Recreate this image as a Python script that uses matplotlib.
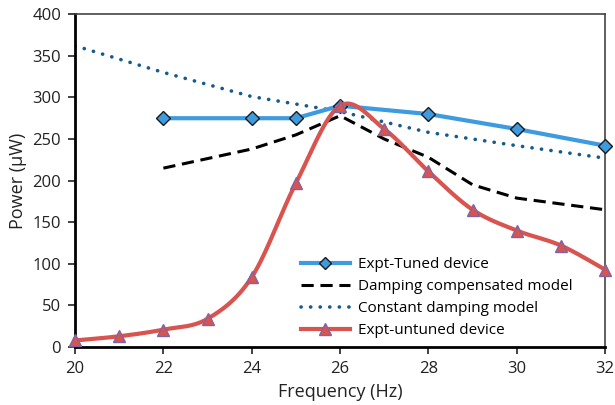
import numpy as np
import matplotlib
matplotlib.use("Agg")
import matplotlib.pyplot as plt
from matplotlib.lines import Line2D

plt.rcParams["font.family"] = ["Open Sans", "DejaVu Sans"]

tuned_f = [22, 24, 25, 26, 28, 30, 32]
tuned_p = [275, 275, 275, 290, 280, 262, 242]

damp_f = [22, 24, 25, 26, 27, 28, 29, 30, 31, 32]
damp_p = [215, 238, 255, 278, 250, 228, 195, 179, 172, 165]

const_f = [20, 22, 24, 26, 28, 30, 32]
const_p = [362, 330, 301, 283, 258, 242, 227]

untuned_f = [20, 21, 22, 23, 24, 25, 26, 27, 28, 29, 30, 31, 32]
untuned_p = [8, 13, 21, 34, 84, 197, 290, 262, 211, 165, 140, 122, 93]


def smooth(x, y, n=30):
    # Excel-like smoothed line (Catmull-Rom through the points)
    x = np.asarray(x, float)
    y = np.asarray(y, float)
    px = np.concatenate([[x[0]], x, [x[-1]]])
    py = np.concatenate([[y[0]], y, [y[-1]]])
    xs, ys = [], []
    for i in range(1, len(px) - 2):
        t = np.linspace(0, 1, n)
        p0, p1, p2, p3 = (px[i - 1], py[i - 1]), (px[i], py[i]), (px[i + 1], py[i + 1]), (px[i + 2], py[i + 2])
        c1 = (p1[0] + (p2[0] - p0[0]) / 6, p1[1] + (p2[1] - p0[1]) / 6)
        c2 = (p2[0] - (p3[0] - p1[0]) / 6, p2[1] - (p3[1] - p1[1]) / 6)
        for k in range(2):
            b = ((1 - t) ** 3 * p1[k] + 3 * (1 - t) ** 2 * t * c1[k]
                 + 3 * (1 - t) * t ** 2 * c2[k] + t ** 3 * p2[k])
            (xs if k == 0 else ys).append(b)
    return np.concatenate(xs), np.concatenate(ys)


fig = plt.figure(figsize=(6.15, 4.05), dpi=100)
ax = fig.add_axes([0.122, 0.143, 0.862, 0.822])

blue = "#3E9BE0"
red = "#D9534F"
dotblue = "#175B8C"
dots = (0, (0.05, 2.6))

ax.plot(tuned_f, tuned_p, color=blue, lw=3, marker="D", ms=7,
        mfc=blue, mec="#1a1a1a", mew=1, zorder=3, clip_on=False)
ax.plot(damp_f, damp_p, color="black", lw=2.2, ls=(0, (4, 2.2)), zorder=2)
ax.plot(const_f, const_p, color=dotblue, lw=2.6, ls=dots,
        dash_capstyle="round", zorder=2)
sx, sy = smooth(untuned_f, untuned_p)
ax.plot(sx, sy, color=red, lw=3, zorder=4, clip_on=False)
ax.plot(untuned_f, untuned_p, ls="none", marker="^", ms=9, mfc=red,
        mec="#8064A2", mew=1, zorder=5, clip_on=False)

ax.set_xlim(20, 32)
ax.set_ylim(0, 400)
ax.set_xticks(range(20, 33, 2))
ax.set_yticks(range(0, 401, 50))
ax.tick_params(labelsize=12, length=5, width=1.2, colors="#222222", pad=5)
ax.set_xlabel("Frequency (Hz)", fontsize=13, color="#222222", labelpad=4)
ax.set_ylabel("Power (\u03bcW)", fontsize=13, color="#222222", labelpad=4)

for side in ["left", "bottom"]:
    ax.spines[side].set_linewidth(2)
    ax.spines[side].set_color("black")
for side in ["top", "right"]:
    ax.spines[side].set_linewidth(1.2)
    ax.spines[side].set_color("#444444")

handles = [
    Line2D([], [], color=blue, lw=3, marker="D", ms=6, mfc=blue, mec="#1a1a1a"),
    Line2D([], [], color="black", lw=2.2, ls=(0, (4, 2.2))),
    Line2D([], [], color=dotblue, lw=2.6, ls=dots, dash_capstyle="round"),
    Line2D([], [], color=red, lw=3, marker="^", ms=8, mfc=red, mec="#8064A2"),
]
labels = ["Expt-Tuned device", "Damping compensated model",
          "Constant damping model", "Expt-untuned device"]
ax.legend(handles, labels, loc="lower right", bbox_to_anchor=(0.955, 0.0),
          frameon=False, fontsize=11, handlelength=3.2, handletextpad=0.5,
          labelspacing=0.45, borderaxespad=0.2)

fig.savefig("out.png", dpi=100)
